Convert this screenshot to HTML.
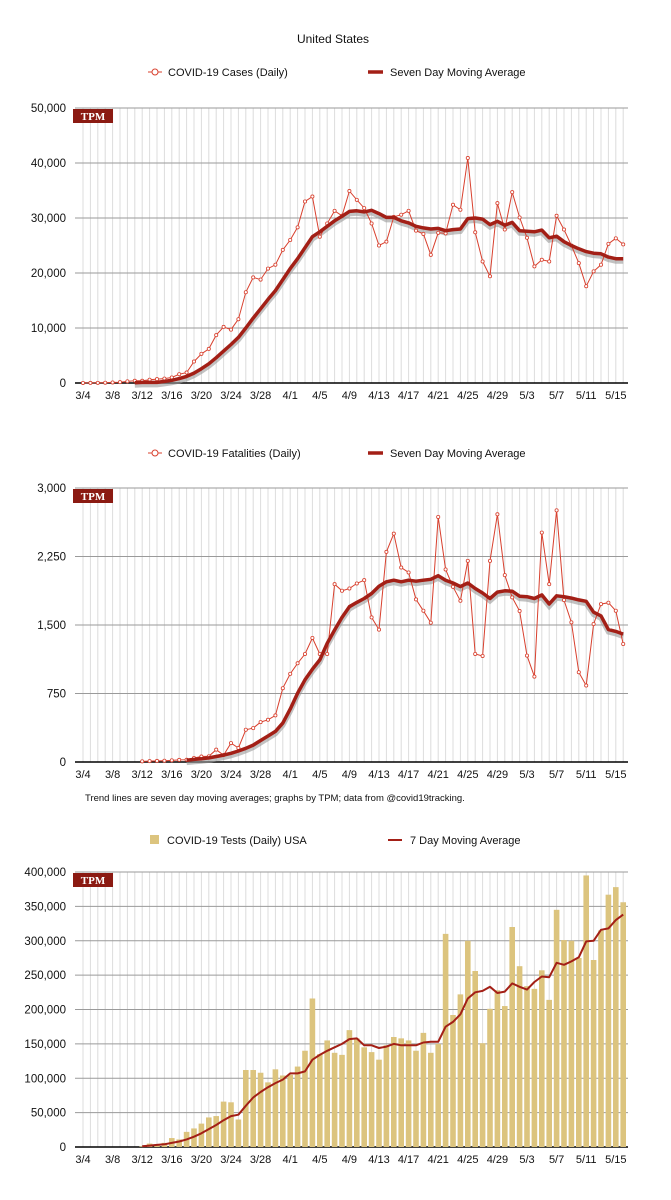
<!DOCTYPE html>
<html><head><meta charset="utf-8">
<style>
body{margin:0;background:#fff;font-family:"Liberation Sans",Arial,sans-serif;}
svg{display:block}
text{font-family:"Liberation Sans",Arial,sans-serif;fill:#111}
</style></head>
<body>
<svg id="svg" width="671" height="1200" viewBox="0 0 671 1200">
<text x="333" y="43" font-size="12" text-anchor="middle">United States</text>
<text x="85" y="801" font-size="9.5">Trend lines are seven day moving averages; graphs by TPM; data from @covid19tracking.</text>
</svg>
<script>
const dates=["3/4","3/8","3/12","3/16","3/20","3/24","3/28","4/1","4/5","4/9","4/13","4/17","4/21","4/25","4/29","5/3","5/7","5/11","5/15"];
const casesDaily=[0.01,0.02,0.03,0.05,0.1,0.15,0.3,0.4,0.4,0.6,0.7,0.8,1.0,1.6,1.9,3.9,5.3,6.2,8.7,10.2,9.7,11.6,16.5,19.2,18.8,20.8,21.5,24.2,26,28.3,33,33.9,26.6,29,31.3,30.4,34.9,33.3,31.8,29,25,25.7,30.2,30.6,31.3,27.7,27.1,23.3,27.3,27.2,32.4,31.5,40.9,27.4,22.1,19.4,32.7,27.9,34.7,30.1,26.4,21.2,22.4,22.1,30.4,27.9,25,21.8,17.6,20.3,21.5,25.3,26.3,25.2];
const casesMA=[null,null,null,null,null,null,null,0.05,0.1,0.1,0.1,0.3,0.5,0.8,1.2,1.8,2.6,3.5,4.6,5.8,7.0,8.3,10,11.8,13.5,15.2,16.8,18.8,20.8,22.6,24.6,26.6,27.5,28.5,29.5,30.3,31.2,31.3,31.1,31.4,30.8,30.1,30.1,29.5,29.1,28.5,28.2,28.0,28.1,27.7,27.9,28.0,29.9,30.0,29.8,28.8,29.4,28.7,29.2,27.7,27.6,27.5,27.8,26.4,26.7,25.7,25.0,24.4,23.9,23.6,23.5,22.9,22.6,22.6];
const deathsDaily=[null,null,null,null,null,null,null,null,7,10,12,14,18,23,25,44,60,62,135,76,207,153,353,371,437,462,510,808,965,1081,1183,1358,1183,1183,1947,1875,1900,1955,1991,1583,1449,2300,2500,2129,2075,1780,1656,1525,2683,2108,1918,1765,2202,1183,1161,2202,2712,2046,1802,1653,1165,935,2512,1947,2755,1773,1529,983,837,1511,1729,1744,1656,1292];
const deathsMA=[null,null,null,null,null,null,null,null,null,null,null,null,null,null,20,28,35,45,60,75,95,120,150,185,235,285,335,426,579,753,900,1016,1118,1300,1445,1583,1700,1747,1790,1845,1925,1973,1991,1973,1991,1980,1990,2000,2040,1990,1960,1920,1960,1900,1850,1790,1860,1875,1870,1815,1810,1790,1830,1730,1820,1810,1795,1775,1760,1640,1600,1450,1430,1400];
const testsDaily=[0,0,0,0,0,0,0,0,1,5,4,6,13,11,22,27,34,43,45,66,65,40,112,112,108,94,113,104,105,117,140,216,135,155,137,134,170,158,145,138,127,148,160,158,155,140,166,137,150,310,192,222,300,256,151,201,228,205,320,263,234,230,257,214,345,301,300,275,395,272,315,367,378,356];
const testsMA=[null,null,null,null,null,null,null,null,1,2,3,4,6,8,11,15,20,26,32,39,45,47,60,72,80,87,93,98,107,107,110,127,134,140,145,150,157,158,148,148,144,146,150,148,148,148,152,153,153,175,182,193,216,225,227,233,224,226,238,233,229,240,248,247,268,265,270,276,299,300,316,318,330,338];
const caseTicks=["0","10,000","20,000","30,000","40,000","50,000"];
const deathTicks=["0","750","1,500","2,250","3,000"];
const testTicks=["0","50,000","100,000","150,000","200,000","250,000","300,000","350,000","400,000"];

const svg=document.getElementById('svg');
const NS='http://www.w3.org/2000/svg';
function mk(tag,attrs,parent){const e=document.createElementNS(NS,tag);for(const k in attrs)e.setAttribute(k,attrs[k]);(parent||svg).appendChild(e);return e;}
const X0=83,DX=7.4,LEFT=75,RIGHT=628;
function xs(i){return X0+i*DX;}

function frame(top,bottom,maxV,ticks,name){
  const g=mk('g',{});
  
  
  for(let i=0;i<74;i++){const l=mk('line',{x1:xs(i),x2:xs(i),y1:top,y2:bottom,stroke:'#dcdcdc','stroke-width':1},g);}
  const n=ticks.length-1;
  ticks.forEach((t,k)=>{const y=bottom-(bottom-top)*k/n;
    const l=mk('line',{x1:LEFT,x2:RIGHT,y1:y,y2:y,stroke:k==0?'#000':'#9a9a9a','stroke-width':k==0?1.5:1},g);
    
    const tx=mk('text',{x:66,y:y+4,'font-size':11.5,'text-anchor':'end'},g);tx.textContent=t;
    });
  dates.forEach((d,k)=>{const tx=mk('text',{x:xs(k*4),y:bottom+16,'font-size':11,'text-anchor':'middle'},g);tx.textContent=d;
    });
  const b=mk('rect',{x:LEFT-2,y:top+1,width:40,height:14,fill:'#8b1a12'},g);
  
  const bt=mk('text',{x:LEFT+18,y:top+12,'font-size':11,'font-weight':'bold','text-anchor':'middle','font-family':'Liberation Serif',fill:'#fff',style:'fill:#fff;font-family:"Liberation Serif",serif'},g);
  bt.textContent='TPM';
  return {g,y:v=>bottom-(bottom-top)*v/maxV};
}
function pathOf(arr,y){let d='',s=false;arr.forEach((v,i)=>{if(v==null){return;}d+=(s?'L':'M')+xs(i).toFixed(1)+','+y(v).toFixed(1);s=true;});return d;}
function lineChart(top,bottom,maxV,ticks,daily,ma,name){
  const f=frame(top,bottom,maxV,ticks,name);
  const sh=mk('path',{d:pathOf(ma,v=>f.y(v)+2.5),fill:'none',stroke:'#999','stroke-width':5,opacity:0.6},f.g);
  
  const dl=mk('path',{d:pathOf(daily,f.y),fill:'none',stroke:'#d8402e','stroke-width':1},f.g);
  
  daily.forEach((v,i)=>{if(v==null)return;const c=mk('circle',{cx:xs(i),cy:f.y(v),r:1.6,fill:'#fff',stroke:'#d8402e','stroke-width':0.8},f.g);
    });
  const ml=mk('path',{d:pathOf(ma,f.y),fill:'none',stroke:'#a31f16','stroke-width':3.5,'stroke-linejoin':'round'},f.g);
  
}
function legend(y,label1,label2,bar){
  const g=mk('g',{});
  if(bar){const r=mk('rect',{x:150,y:y-6,width:9,height:9,fill:'#dcc47e'},g);
    const l=mk('line',{x1:388,x2:402,y1:y-1,y2:y-1,stroke:'#a31f16','stroke-width':2},g);}
  else{const l0=mk('line',{x1:148,x2:162,y1:y-1,y2:y-1,stroke:'#d8402e','stroke-width':1},g);
    const c=mk('circle',{cx:155,cy:y-1,r:3,fill:'#fff',stroke:'#d8402e','stroke-width':1},g);
    const l=mk('line',{x1:368,x2:383,y1:y-1,y2:y-1,stroke:'#a31f16','stroke-width':3.5},g);}
  const t1=mk('text',{x:bar?167:168,y:y+3,'font-size':11},g);t1.textContent=label1;
  const t2=mk('text',{x:bar?410:390,y:y+3,'font-size':11},g);t2.textContent=label2;
}
legend(73,'COVID-19 Cases (Daily)','Seven Day Moving Average',false);
lineChart(108,383,50,caseTicks,casesDaily,casesMA,'cases');
legend(454,'COVID-19 Fatalities (Daily)','Seven Day Moving Average',false);
lineChart(488,762,3000,deathTicks,deathsDaily,deathsMA,'fatalities');
legend(841,'COVID-19 Tests (Daily) USA','7 Day Moving Average',true);
(function(){
  const f=frame(872,1147,400,testTicks,'tests');
  testsDaily.forEach((v,i)=>{if(!v)return;const r=mk('rect',{x:xs(i)-2.8,y:f.y(v),width:5.6,height:1147-f.y(v),fill:'#dcc47e'},f.g);
    });
  const ml=mk('path',{d:pathOf(testsMA,f.y),fill:'none',stroke:'#a31f16','stroke-width':2,'stroke-linejoin':'round'},f.g);
  
})();
</script>
</body></html>
